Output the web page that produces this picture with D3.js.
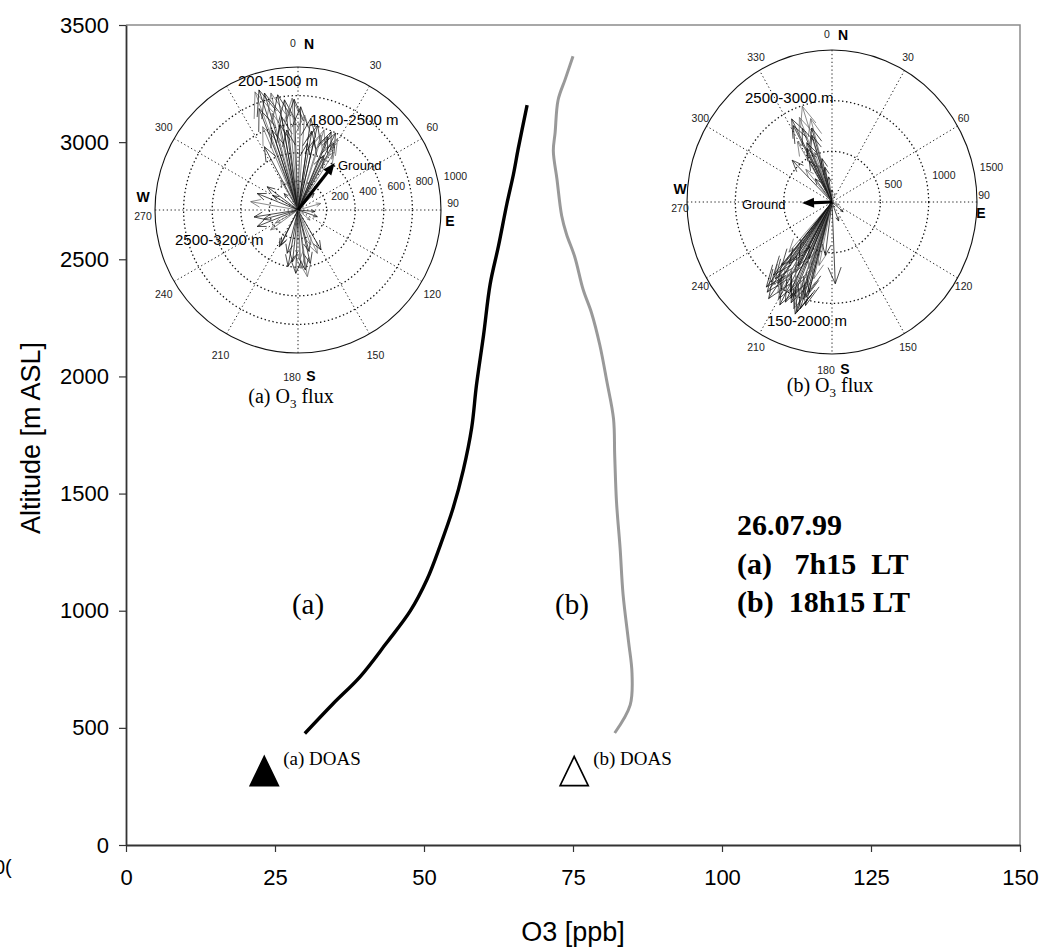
<!DOCTYPE html>
<html>
<head>
<meta charset="utf-8">
<script src="https://cdn.jsdelivr.net/npm/d3@7"></script>
<style>
    body { margin: 0; background: #fff; }
    svg { display: block; }
</style>
</head>
<body>
<div id="chart"></div>
<script>
//
// O3 vertical profiles with O3 flux compass insets
//
var xTicks = [0, 25, 50, 75, 100, 125, 150];
var yTicks = [0, 500, 1000, 1500, 2000, 2500, 3000, 3500];

// profile (a) 7h15 LT
var profA_o3 = [30.0, 34.7, 39.3, 43.7, 47.7, 50.5, 52.7, 54.9, 56.6, 58.0, 58.8, 60.0, 61.1, 62.5, 63.9, 65.0, 65.8, 67.3];
var profA_alt = [476, 602, 719, 862, 999, 1133, 1277, 1439, 1601, 1781, 1962, 2178, 2394, 2557, 2736, 2862, 2971, 3158];

// profile (b) 18h15 LT
var profB_o3 = [82.0, 84.6, 84.9, 84.3, 83.4, 82.9, 82.3, 82.0, 81.8, 80.7, 79.5, 78.1, 76.7, 75.3, 73.9, 73.1, 72.3, 71.7, 72.0, 72.5, 73.7, 75.0];
var profB_alt = [478, 598, 734, 872, 1070, 1268, 1464, 1661, 1819, 1976, 2134, 2272, 2371, 2510, 2608, 2686, 2844, 2962, 3041, 3180, 3269, 3367];

// DOAS ground values
var doasNames = ["(a) DOAS", "(b) DOAS"];
var doasO3 = [23.2, 75.2];
var doasAlt = [295, 295];

// compass (a): direction (deg from N) and O3 flux magnitude
var fluxA_dir = [340, 342, 344, 347, 350, 353, 357, 358, 1.5, 337, 332, 350, 355, 342, 352, 345, 339, 348,
    4, 8, 13, 18, 23, 26, 29, 28, 22, 17, 13, 8, 32, 25, 10,
    280, 292, 307, 330, 261, 248, 234, 206, 109, 74, 44, 95, 130, 300, 255, 240, 320,
    186, 177, 173, 167, 156, 150, 182, 172, 194, 207, 178, 165, 190, 160];
var fluxA_mag = [879, 883, 851, 840, 818, 776, 783, 775, 722, 633, 501, 662, 703, 588, 565, 700, 760, 610,
    666, 648, 610, 589, 594, 598, 572, 530, 553, 549, 503, 471, 480, 420, 560,
    336, 308, 270, 242, 311, 308, 237, 273, 143, 166, 162, 120, 110, 200, 250, 180, 150,
    364, 409, 423, 384, 332, 322, 443, 471, 312, 289, 350, 300, 400, 260];
var groundA = [38, 417];

// compass (b)
var fluxB_dir = [342, 333, 332, 345, 337, 342.5, 329, 315, 334, 339, 323, 346.5, 338, 344, 336, 340, 330, 348, 320, 352, 0, 20, 130, 160, 110,
    217, 214.5, 217, 217.7, 210, 210.7, 206, 206, 200.6, 198.4, 197.3, 198, 195, 195, 194, 208.8, 219.6, 222, 213, 203, 192, 177.6, 187.5,
    212, 208, 203, 201, 215, 219, 205, 199, 196, 212, 220, 209, 200, 216, 204];
var fluxB_mag = [994, 920, 854, 852, 788, 690, 694, 583, 587, 387, 287, 440, 900, 760, 640, 520, 470, 350, 420, 250, 120, 90, 150, 200, 80,
    1114, 1157, 1030, 957, 1102, 1014, 1099, 987, 1125, 1145, 1103, 1003, 1057, 920, 780, 789, 811, 666, 629, 609, 640, 807, 531,
    1060, 1150, 1080, 1010, 980, 1080, 900, 1170, 980, 880, 940, 720, 700, 750, 1040];
var groundB = [268, 310];

var compassAngles = [0, 30, 60, 90, 120, 150, 180, 210, 240, 270, 300, 330];
var ringsA = [200, 400, 600, 800, 1000];
var ringsB = [500, 1000, 1500];

var width = 1044, height = 950;
var margin = { left: 126, right: 24, top: 25, bottom: 105 };

var svg = d3.select("#chart").append("svg")
    .attr("width", width)
    .attr("height", height)
    .style("font-family", "'Liberation Sans', Arial, sans-serif");

var x = d3.scaleLinear().domain([0, 150]).range([margin.left, width - margin.right]);
var y = d3.scaleLinear().domain([0, 3500]).range([height - margin.bottom, margin.top]);

// plot frame (top and right in grey)
svg.append("path")
    .attr("d", "M" + x(0) + "," + y(3500) + "H" + x(150) + "V" + y(0))
    .attr("fill", "none")
    .attr("stroke", "#8c8c8c")
    .attr("stroke-width", 1.5);

var xAxis = svg.append("g")
    .attr("transform", "translate(0," + y(0) + ")")
    .call(d3.axisBottom(x).tickValues(xTicks).tickFormat(d3.format("d")).tickSize(7).tickSizeOuter(0).tickPadding(17));
var yAxis = svg.append("g")
    .attr("transform", "translate(" + x(0) + ",0)")
    .call(d3.axisLeft(y).tickValues(yTicks).tickFormat(d3.format("d")).tickSize(7).tickSizeOuter(0).tickPadding(10));

[xAxis, yAxis].forEach(function (a) {
    a.selectAll("text").style("font-size", "22px").style("font-family", "'Liberation Sans', Arial, sans-serif").attr("fill", "#000");
    a.select(".domain").attr("stroke", "#333").attr("stroke-width", 1.8);
    a.selectAll(".tick line").attr("stroke", "#333").attr("stroke-width", 1.2);
});

svg.append("text")
    .attr("transform", "translate(31,438) rotate(-90)")
    .attr("text-anchor", "middle")
    .attr("dominant-baseline", "central")
    .style("font-size", "27px")
    .text("Altitude [m ASL]");

svg.append("text")
    .attr("x", (x(0) + x(150)) / 2)
    .attr("y", 941)
    .attr("text-anchor", "middle")
    .style("font-size", "27px")
    .text("O3 [ppb]");

// clipped leftover label at the left edge
svg.append("text")
    .attr("x", -6).attr("y", 874)
    .style("font-size", "20px")
    .text("0(");

//
// compass insets
//
function drawCompass(cfg) {
    var g = svg.append("g");
    var rX = d3.scaleLinear().domain([0, cfg.rmax]).range([0, cfg.rx]);
    var rY = d3.scaleLinear().domain([0, cfg.rmax]).range([0, cfg.ry]);
    var rad = function (deg) { return deg * Math.PI / 180; };
    var px = function (deg, v) { return cfg.cx + rX(v) * Math.sin(rad(deg)); };
    var py = function (deg, v) { return cfg.cy - rY(v) * Math.cos(rad(deg)); };

    // spokes
    g.selectAll(".spoke")
        .data(compassAngles.filter(function (a) { return a < 180; }))
        .enter().append("line")
        .attr("x1", function (a) { return px(a, cfg.rmax); })
        .attr("y1", function (a) { return py(a, cfg.rmax); })
        .attr("x2", function (a) { return px(a + 180, cfg.rmax); })
        .attr("y2", function (a) { return py(a + 180, cfg.rmax); })
        .attr("stroke", "#222")
        .attr("stroke-width", 1)
        .attr("stroke-dasharray", "1.3,2.6");

    // rings
    g.selectAll(".ring")
        .data(cfg.rings)
        .enter().append("ellipse")
        .attr("cx", cfg.cx).attr("cy", cfg.cy)
        .attr("rx", function (d) { return rX(d); })
        .attr("ry", function (d) { return rY(d); })
        .attr("fill", "none")
        .attr("stroke", "#111")
        .attr("stroke-width", function (d, i) { return i == cfg.rings.length - 1 ? 1.1 : 1.3; })
        .attr("stroke-dasharray", function (d, i) { return i == cfg.rings.length - 1 ? null : "1.4,2.6"; });

    // ring labels
    g.selectAll(".rlab")
        .data(cfg.rings)
        .enter().append("text")
        .attr("x", function (d) { return px(80, d) + cfg.rlabDx; })
        .attr("y", function (d) { return py(80, d) - 5; })
        .style("font-size", "10.5px")
        .attr("fill", "#222")
        .text(function (d) { return d; });

    // angle labels
    var nudge = { 0: [-5, 0], 90: [0, -7], 180: [-6, 0], 270: [0, 6] };
    g.selectAll(".alab")
        .data(compassAngles)
        .enter().append("text")
        .attr("x", function (a) { return cfg.cx + cfg.lrx * Math.sin(rad(a)) + (nudge[a] ? nudge[a][0] : 0); })
        .attr("y", function (a) { return cfg.cy - cfg.lry * Math.cos(rad(a)) + (nudge[a] ? nudge[a][1] : 0); })
        .attr("text-anchor", "middle")
        .attr("dominant-baseline", "central")
        .style("font-size", "10.5px")
        .attr("fill", "#222")
        .text(function (a) { return a; });

    var cardinal = [
        { t: "N", a: 0, dx: 11, dy: 1 },
        { t: "E", a: 90, dx: -3, dy: 11 },
        { t: "S", a: 180, dx: 13, dy: -1 },
        { t: "W", a: 270, dx: 0, dy: -13 }
    ];
    g.selectAll(".card")
        .data(cardinal)
        .enter().append("text")
        .attr("x", function (d) { return cfg.cx + cfg.lrx * Math.sin(rad(d.a)) + d.dx; })
        .attr("y", function (d) { return cfg.cy - cfg.lry * Math.cos(rad(d.a)) + d.dy; })
        .attr("text-anchor", "middle")
        .attr("dominant-baseline", "central")
        .style("font-size", "14px")
        .style("font-weight", "bold")
        .text(function (d) { return d.t; });

    // flux arrows, compass style heads
    var arrows = cfg.dirs.map(function (d, i) { return { dir: d, mag: cfg.mags[i] }; });
    g.selectAll(".arrow")
        .data(arrows)
        .enter().append("path")
        .attr("d", function (d) {
            var tx = px(d.dir, d.mag), ty = py(d.dir, d.mag);
            var vx = tx - cfg.cx, vy = ty - cfg.cy;
            var bx = cfg.cx + 0.8 * vx, by = cfg.cy + 0.8 * vy;
            return "M" + cfg.cx + "," + cfg.cy + "L" + tx + "," + ty +
                "M" + (bx - 0.08 * vy) + "," + (by + 0.08 * vx) + "L" + tx + "," + ty +
                "L" + (bx + 0.08 * vy) + "," + (by - 0.08 * vx);
        })
        .attr("fill", "none")
        .attr("stroke", function (d, i) { return i % 3 == 0 ? "#666" : "#111"; })
        .attr("stroke-width", 0.75);

    // ground arrow
    var gx = px(cfg.ground[0], cfg.ground[1]), gy = py(cfg.ground[0], cfg.ground[1]);
    var len = Math.sqrt((gx - cfg.cx) * (gx - cfg.cx) + (gy - cfg.cy) * (gy - cfg.cy));
    var ux = (gx - cfg.cx) / len, uy = (gy - cfg.cy) / len;
    g.append("line")
        .attr("x1", cfg.cx).attr("y1", cfg.cy)
        .attr("x2", gx - ux * 8).attr("y2", gy - uy * 8)
        .attr("stroke", "#000").attr("stroke-width", 3.2);
    g.append("path")
        .attr("d", "M" + gx + "," + gy +
            "L" + (gx - ux * 12 - uy * 5) + "," + (gy - uy * 12 + ux * 5) +
            "L" + (gx - ux * 12 + uy * 5) + "," + (gy - uy * 12 - ux * 5) + "Z")
        .attr("fill", "#000");

    // layer labels
    g.selectAll(".layer")
        .data(cfg.labels)
        .enter().append("text")
        .attr("x", function (d) { return cfg.cx + d.dx; })
        .attr("y", function (d) { return cfg.cy + d.dy; })
        .style("font-size", function (d) { return d.size + "px"; })
        .text(function (d) { return d.t; });

    // caption
    var cap = svg.append("text")
        .attr("x", cfg.capX).attr("y", cfg.capY)
        .attr("text-anchor", "middle")
        .style("font-family", "'Liberation Serif', 'Times New Roman', serif")
        .style("font-size", "20px");
    cap.append("tspan").text(cfg.cap + " O");
    cap.append("tspan").attr("dy", 5).style("font-size", "13px").text("3");
    cap.append("tspan").attr("dy", -5).text(" flux");
}

drawCompass({
    cx: 298, cy: 210, rx: 143, ry: 143, rmax: 1000, rings: ringsA, rlabDx: 5,
    lrx: 155, lry: 167,
    dirs: fluxA_dir, mags: fluxA_mag, ground: groundA,
    labels: [
        { t: "200-1500 m", dx: -60, dy: -124, size: 15 },
        { t: "1800-2500 m", dx: 12, dy: -85, size: 15 },
        { t: "Ground", dx: 40, dy: -40, size: 13 },
        { t: "2500-3200 m", dx: -123, dy: 35, size: 15 }
    ],
    cap: "(a)", capX: 291, capY: 403
});

drawCompass({
    cx: 832, cy: 202, rx: 145, ry: 152, rmax: 1500, rings: ringsB, rlabDx: 5,
    lrx: 152, lry: 168,
    dirs: fluxB_dir, mags: fluxB_mag, ground: groundB,
    labels: [
        { t: "2500-3000 m", dx: -87, dy: -99, size: 15 },
        { t: "Ground", dx: -90, dy: 7, size: 13 },
        { t: "150-2000 m", dx: -65, dy: 124, size: 15 }
    ],
    cap: "(b)", capX: 830, capY: 392
});

//
// profiles
//
var line = d3.line()
    .x(function (d) { return x(d[0]); })
    .y(function (d) { return y(d[1]); })
    .curve(d3.curveCatmullRom.alpha(0.5));

svg.append("path")
    .datum(profA_o3.map(function (v, i) { return [v, profA_alt[i]]; }))
    .attr("d", line)
    .attr("fill", "none")
    .attr("stroke", "#000")
    .attr("stroke-width", 3.4)
    .attr("stroke-linejoin", "round");

svg.append("path")
    .datum(profB_o3.map(function (v, i) { return [v, profB_alt[i]]; }))
    .attr("d", line)
    .attr("fill", "none")
    .attr("stroke", "#999")
    .attr("stroke-width", 3)
    .attr("stroke-linejoin", "round");

// DOAS markers
var tri = d3.symbol().type(d3.symbolTriangle).size(340);
svg.selectAll(".doas")
    .data(doasO3)
    .enter().append("path")
    .attr("d", tri)
    .attr("transform", function (d, i) { return "translate(" + x(d) + "," + y(doasAlt[i]) + ") scale(1,1.2)"; })
    .attr("fill", function (d, i) { return i == 0 ? "#000" : "#fff"; })
    .attr("stroke", "#000")
    .attr("stroke-width", 1.6);

svg.selectAll(".doasLabel")
    .data(doasNames)
    .enter().append("text")
    .attr("x", function (d, i) { return x(doasO3[i]) + 19; })
    .attr("y", function (d, i) { return y(doasAlt[i]) - 11; })
    .style("font-family", "'Liberation Serif', 'Times New Roman', serif")
    .style("font-size", "19px")
    .text(function (d) { return d; });

// curve tags
svg.append("text").attr("x", 308).attr("y", 614).attr("text-anchor", "middle")
    .style("font-family", "'Liberation Serif', 'Times New Roman', serif").style("font-size", "29px").text("(a)");
svg.append("text").attr("x", 572).attr("y", 614).attr("text-anchor", "middle")
    .style("font-family", "'Liberation Serif', 'Times New Roman', serif").style("font-size", "29px").text("(b)");

// date box
var dateLines = ["26.07.99", "(a)   7h15  LT", "(b)  18h15 LT"];
svg.selectAll(".date")
    .data(dateLines)
    .enter().append("text")
    .attr("x", 737)
    .attr("y", function (d, i) { return 535 + i * 38.5; })
    .attr("xml:space", "preserve")
    .style("white-space", "pre")
    .style("font-family", "'Liberation Serif', 'Times New Roman', serif")
    .style("font-weight", "bold")
    .style("font-size", "30px")
    .text(function (d) { return d; });
</script>
</body>
</html>
